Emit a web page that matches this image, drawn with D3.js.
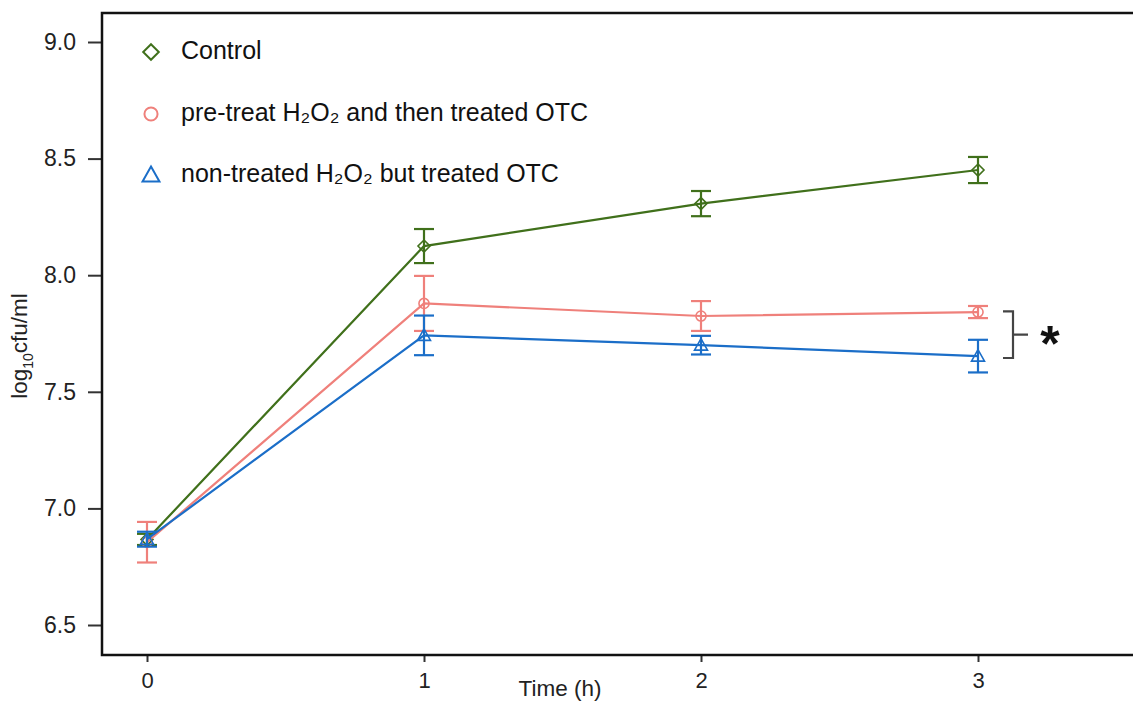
<!DOCTYPE html>
<html>
<head>
<meta charset="utf-8">
<script src="https://cdn.jsdelivr.net/npm/d3@7"></script>
<style>
  html, body { margin: 0; padding: 0; background: #fff; }
  svg { display: block; font-family: "Liberation Sans", Arial, Helvetica, sans-serif; }
</style>
</head>
<body>
<svg id="chart" width="1133" height="702"></svg>
<script>
// ---- data ----
const times = [0, 1, 2, 3];
const xTickLabels = ["0", "1", "2", "3"];
const yTickValues = [6.5, 7.0, 7.5, 8.0, 8.5, 9.0];

const seriesNames = ["Control", "pre-treat H₂O₂ and then treated OTC", "non-treated H₂O₂ but treated OTC"];
const controlMean   = [6.867, 8.125, 8.307, 8.451];
const controlErr    = [0.024, 0.073, 0.054, 0.056];
const pretreatMean  = [6.855, 7.879, 7.825, 7.842];
const pretreatErr   = [0.087, 0.118, 0.064, 0.026];
const nontreatMean  = [6.868, 7.742, 7.700, 7.653];
const nontreatErr   = [0.032, 0.085, 0.040, 0.070];

const sigBracket = [7.845, 7.645]; // significance bracket span at t = 3
const sigLabel = "*";

// ---- setup ----
const svg = d3.select("#chart");
const frame = { left: 102, top: 13, right: 1133, bottom: 655 };
const FONT = "'Liberation Sans', Arial, sans-serif";

const x = d3.scaleLinear().domain([0, 3]).range([147, 978]);
const y = d3.scaleLinear().domain([6.5, 9.0]).range([625, 42]);

const colors = ["#40701b", "#ef807b", "#1b6ec8"];
const shapes = ["diamond", "circle", "triangle"];

const series = [
  { name: seriesNames[0], mean: controlMean, err: controlErr, color: colors[0], shape: shapes[0] },
  { name: seriesNames[1], mean: pretreatMean, err: pretreatErr, color: colors[1], shape: shapes[1] },
  { name: seriesNames[2], mean: nontreatMean, err: nontreatErr, color: colors[2], shape: shapes[2] }
];

function markerPath(shape, k) {
  k = k || 1;
  if (shape === "diamond") return `M0,${-6 * k}L${6 * k},0L0,${6 * k}L${-6 * k},0Z`;
  if (shape === "circle") return d3.symbol().type(d3.symbolCircle).size(80 * k * k)();
  return `M0,${-6.5 * k}L${6.5 * k},${5 * k}L${-6.5 * k},${5 * k}Z`;
}

// ---- axes ----
const yAxis = d3.axisLeft(y)
  .tickValues(yTickValues)
  .tickFormat(d3.format(".1f"))
  .tickSize(14)
  .tickPadding(12);
const gy = svg.append("g").attr("transform", `translate(${frame.left},0)`).call(yAxis);
gy.select(".domain").remove();
gy.selectAll(".tick line").attr("stroke", "#333").attr("stroke-width", 2);
gy.selectAll(".tick text").attr("font-size", 23).attr("fill", "#222").attr("font-family", FONT);

const xAxis = d3.axisBottom(x)
  .tickValues(times)
  .tickFormat((d, i) => xTickLabels[i])
  .tickSize(7)
  .tickPadding(10);
const gx = svg.append("g").attr("transform", `translate(0,${frame.bottom})`).call(xAxis);
gx.select(".domain").remove();
gx.selectAll(".tick line").attr("stroke", "#333").attr("stroke-width", 2);
gx.selectAll(".tick text").attr("font-size", 22).attr("fill", "#222").attr("font-family", FONT);

// frame lines
svg.append("path")
  .attr("d", `M${frame.right},${frame.top}H${frame.left}V${frame.bottom}H${frame.right}`)
  .attr("fill", "none").attr("stroke", "#111").attr("stroke-width", 2.5);

// axis titles
svg.append("text")
  .attr("x", 560).attr("y", 696)
  .attr("text-anchor", "middle")
  .attr("font-size", 22.5).attr("fill", "#222")
  .text("Time (h)");

const yl = svg.append("text")
  .attr("transform", "translate(27,346) rotate(-90)")
  .attr("text-anchor", "middle")
  .attr("font-size", 22.5).attr("fill", "#222");
yl.append("tspan").text("log");
yl.append("tspan").attr("font-size", 14).attr("dy", 6).text("10");
yl.append("tspan").attr("dy", -6).text("cfu/ml");

// ---- series ----
const line = d3.line().x((d, i) => x(times[i])).y(d => y(d));

series.forEach(s => {
  const g = svg.append("g");
  g.append("path")
    .attr("d", line(s.mean))
    .attr("fill", "none").attr("stroke", s.color).attr("stroke-width", 2.2);

  const eb = g.selectAll(".eb").data(s.mean).enter().append("g");
  eb.append("line")
    .attr("x1", (d, i) => x(times[i])).attr("x2", (d, i) => x(times[i]))
    .attr("y1", (d, i) => y(d - s.err[i])).attr("y2", (d, i) => y(d + s.err[i]))
    .attr("stroke", s.color).attr("stroke-width", 2.2);
  [-1, 1].forEach(sign => {
    eb.append("line")
      .attr("x1", (d, i) => x(times[i]) - 10).attr("x2", (d, i) => x(times[i]) + 10)
      .attr("y1", (d, i) => y(d + sign * s.err[i])).attr("y2", (d, i) => y(d + sign * s.err[i]))
      .attr("stroke", s.color).attr("stroke-width", 2.2);
  });

  g.selectAll(".mk").data(s.mean).enter().append("path")
    .attr("d", markerPath(s.shape))
    .attr("transform", (d, i) => `translate(${x(times[i])},${y(d)})`)
    .attr("fill", "none").attr("stroke", s.color).attr("stroke-width", 1.6);
});

// ---- legend ----
const legendY = [50, 112, 173];
series.forEach((s, i) => {
  svg.append("path")
    .attr("d", markerPath(s.shape, 1.3))
    .attr("transform", `translate(151,${legendY[i] + 2})`)
    .attr("fill", "none").attr("stroke", s.color).attr("stroke-width", 2);
  svg.append("text")
    .attr("x", 181).attr("y", legendY[i])
    .attr("dy", "0.35em")
    .attr("font-size", 25).attr("fill", "#111")
    .text(s.name);
});

// ---- significance bracket ----
const bx = x(3) + 35;
const yTop = y(sigBracket[0]), yBot = y(sigBracket[1]);
svg.append("path")
  .attr("d", `M${bx - 10},${yTop}H${bx}V${yBot}H${bx - 10}M${bx},${(yTop + yBot) / 2}H${bx + 15}`)
  .attr("fill", "none").attr("stroke", "#444").attr("stroke-width", 2.2);
svg.append("text")
  .attr("x", bx + 37).attr("y", (yTop + yBot) / 2 + 26)
  .attr("text-anchor", "middle")
  .attr("font-size", 50).attr("font-weight", "bold").attr("fill", "#111")
  .text(sigLabel);
</script>
</body>
</html>
